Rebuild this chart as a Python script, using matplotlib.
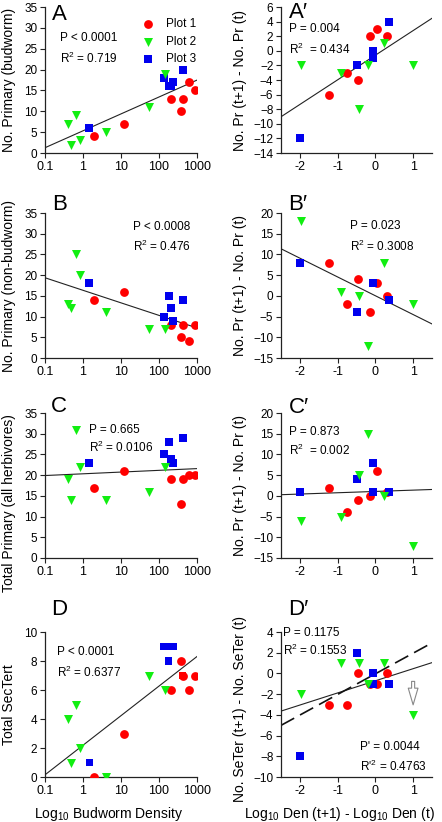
import numpy as np
import matplotlib
matplotlib.use("Agg")
import matplotlib.pyplot as plt
from matplotlib.patches import FancyArrowPatch, ArrowStyle

plt.rcParams['font.family'] = ['Liberation Sans', 'DejaVu Sans']
plt.rcParams['mathtext.fontset'] = 'custom'
plt.rcParams['mathtext.rm'] = 'Liberation Sans'
plt.rcParams['mathtext.it'] = 'Liberation Sans:italic'

# ---------------- data: left column (budworm density) ----------------
red_x = [2.0, 12, 210, 420, 390, 600, 870]
green_x = [0.41, 0.64, 0.47, 0.81, 4.0, 56, 146]
blue_x = [1.48, 137, 178, 204, 233, 417]

red_A = [4, 7, 13, 13, 10, 17, 15]
green_A = [7, 9, 2, 3, 5, 11, 19]
blue_A = [6, 18, 16, 16, 17, 20]

red_B = [14, 16, 8, 8, 5, 4, 8]
green_B = [13, 25, 12, 20, 11, 7, 7]
blue_B = [18, 10, 15, 12, 9, 14]

red_C = [17, 21, 19, 19, 13, 20, 20]
green_C = [19, 31, 14, 22, 14, 16, 22]
blue_C = [23, 25, 28, 24, 23, 29]

red_D = [0, 3, 6, 7, 8, 6, 7]
green_D = [4, 5, 1, 2, 0, 7, 6]
blue_D = [1, 9, 8, 9, 9, 7]
blue_D_colors = ['#0000ee', '#0000ee', '#0000ee', '#0000ee', '#0000ee', '#ff0000']

# ---------------- data: right column (change in log density) ----------------
red_dx = [-1.24, -0.76, -0.45, -0.15, 0.04, 0.32]
green_dx = [-1.96, -0.92, -0.43, -0.19, 0.23, 1.0]
blue_dx = [-2.0, -0.5, -0.05, -0.05, 0.37]

red_Ap = [-6, -3, -4, 2, 3, 2]
green_Ap = [-2, -3, -8, -2, 1, -2]
blue_Ap = [-12, -2, 0, -1, 4]

red_Bp = [8, -2, 4, -4, 3, 0]
green_Bp = [18, 1, 0, -12, 8, -2]
blue_Bp = [8, -4, 3, 3, -1]

red_Cp = [2, -4, -1, 0, 6, 1]
green_Cp = [-6, -5, 5, 15, 0, -12]
blue_Cp = [1, 4, 8, 1, 1]

red_Dp = [-3, -3, 0, -1, -1, 0]
green_Dp = [-2, 1, 1, -1, 1, -4]
blue_Dp = [-8, 2, 0, -1, -1]
outlier_index_green_Dp = 5

series_labels = ['Plot 1', 'Plot 2', 'Plot 3']
log_ticks = [0.1, 1, 10, 100, 1000]
log_ticklabels = ['0.1', '1', '10', '100', '1000']

RED = '#ff0000'
GREEN = '#11ee11'
BLUE = '#0000ee'

W, H = 442, 822
fig = plt.figure(figsize=(W / 100, H / 100), dpi=100)


def make_ax(left, right, top, bottom):
    return fig.add_axes([left / W, 1 - bottom / H, (right - left) / W, (bottom - top) / H])


def style(ax):
    for s in ['top', 'right']:
        ax.spines[s].set_visible(False)
    for s in ['left', 'bottom']:
        ax.spines[s].set_linewidth(0.9)
        ax.spines[s].set_color('#222222')
    ax.tick_params(direction='out', length=3.5, width=0.8, pad=2, color='#222222')
    ax.tick_params(axis='y', labelsize=8.5)
    ax.tick_params(axis='x', labelsize=9)
    ax.tick_params(which='minor', length=0)
    ax.patch.set_alpha(0)


def draw_points(ax, rx, ry, gx, gy, bx, by, bcolors=None):
    ax.scatter(rx, ry, marker='o', s=40, c=RED, linewidths=0, zorder=3, label=series_labels[0])
    ax.scatter(bx, by, marker='s', s=32, c=bcolors if bcolors else BLUE, linewidths=0, zorder=4,
               label=series_labels[2])
    ax.scatter(gx, gy, marker='v', s=42, c=GREEN, linewidths=0, zorder=5, label=series_labels[1])


def fit_line(ax, xs, ys, log=False, xlim=None, **kw):
    xs = np.asarray(xs, float)
    xv = np.log10(xs) if log else xs
    k, b = np.polyfit(xv, np.asarray(ys, float), 1)
    if log:
        lx = np.array([-1.0, 3.0])
        ax.plot(10 ** lx, k * lx + b, zorder=2, **kw)
    else:
        lx = np.array(xlim)
        ax.plot(lx, k * lx + b, zorder=2, **kw)


lefts = (45, 197)
rights = (281, 432)
rows = [(7, 153), (213, 358), (413, 558), (632, 777)]

left_data = [
    (red_A, green_A, blue_A, 35, 5, 'No. Primary (budworm)', None, 0.5),
    (red_B, green_B, blue_B, 35, 5, 'No. Primary (non-budworm)', None, 0.5),
    (red_C, green_C, blue_C, 35, 5, 'Total Primary (all herbivores)', None, 0.38),
    (red_D, green_D, blue_D, 10, 2, 'Total SecTert', blue_D_colors, 0.5),
]
right_data = [
    (red_Ap, green_Ap, blue_Ap, (-14, 6), 2, 'No. Pr (t+1) - No. Pr (t)', 0.5),
    (red_Bp, green_Bp, blue_Bp, (-15, 20), 5, 'No. Pr (t+1) - No. Pr (t)', 0.5),
    (red_Cp, green_Cp, blue_Cp, (-15, 20), 5, 'No. Pr (t+1) - No. Pr (t)', 0.5),
    (red_Dp, green_Dp, blue_Dp, (-10, 4), 2, 'No. SeTer (t+1) - No. SeTer (t)', 0.47),
]

LABEL_FS = 10

left_axes, right_axes = [], []
for (top, bot), (ry, gy, by, ymax, ystep, ylab, bcol, ly) in zip(rows, left_data):
    ax = make_ax(lefts[0], lefts[1], top, bot)
    style(ax)
    ax.set_xscale('log')
    ax.set_xlim(0.1, 1000)
    ax.set_ylim(0, ymax)
    ax.set_xticks(log_ticks)
    ax.set_xticklabels(log_ticklabels)
    ax.set_yticks(np.arange(0, ymax + 0.1, ystep))
    draw_points(ax, red_x, ry, green_x, gy, blue_x, by, bcol)
    fit_line(ax, red_x + green_x + blue_x, ry + gy + by, log=True, color='#222222', lw=0.8)
    ax.set_ylabel(ylab, fontsize=LABEL_FS)
    ax.yaxis.set_label_coords(-0.19, ly)
    left_axes.append(ax)

for (top, bot), (ry, gy, by, ylim, ystep, ylab, ly) in zip(rows, right_data):
    ax = make_ax(rights[0], rights[1], top, bot)
    style(ax)
    ax.set_xlim(-2.5, 1.5)
    ax.set_ylim(*ylim)
    ax.set_xticks([-2, -1, 0, 1])
    ax.set_xticklabels(['-2', '-1', '0', '1'])
    ax.set_yticks(np.arange(ylim[0], ylim[1] + 0.1, ystep))
    draw_points(ax, red_dx, ry, green_dx, gy, blue_dx, by)
    fit_line(ax, red_dx + green_dx + blue_dx, ry + gy + by, xlim=(-2.5, 1.5),
             color='#222222', lw=0.8)
    ax.set_ylabel(ylab, fontsize=LABEL_FS)
    ax.yaxis.set_label_coords(-0.225, ly)
    right_axes.append(ax)

# dashed fit in D' without the outlier
axDp = right_axes[3]
gx_wo = [x for i, x in enumerate(green_dx) if i != outlier_index_green_Dp]
gy_wo = [y for i, y in enumerate(green_Dp) if i != outlier_index_green_Dp]
fit_line(axDp, red_dx + gx_wo + blue_dx, red_Dp + gy_wo + blue_Dp, xlim=(-2.5, 1.5),
         color='#111111', lw=1.2, dashes=(9, 4))
ox = green_dx[outlier_index_green_Dp]
oy = green_Dp[outlier_index_green_Dp]
arr = FancyArrowPatch((ox, oy + 3.5), (ox, oy + 0.7),
                      arrowstyle=ArrowStyle.Simple(head_length=12, head_width=7, tail_width=2.2),
                      fc='white', ec='#888888', lw=0.8, zorder=6)
axDp.add_patch(arr)

# legend in A
h, l = left_axes[0].get_legend_handles_labels()
order = [l.index(s) for s in series_labels]
left_axes[0].legend([h[i] for i in order], [l[i] for i in order], loc='upper left',
                    bbox_to_anchor=(0.6, 0.955), frameon=False, fontsize=8.5,
                    handletextpad=0.9, labelspacing=0.45, borderaxespad=0, handlelength=1.2)

# annotations
ann_fs = 8.5
texts = [
    (left_axes[0], 0.10, 0.79, 'P < 0.0001'), (left_axes[0], 0.10, 0.65, 'R$^2$ = 0.719'),
    (right_axes[0], 0.05, 0.85, 'P = 0.004'), (right_axes[0], 0.05, 0.71, 'R$^2$  = 0.434'),
    (left_axes[1], 0.58, 0.90, 'P < 0.0008'), (left_axes[1], 0.58, 0.77, 'R$^2$ = 0.476'),
    (right_axes[1], 0.455, 0.91, 'P = 0.023'), (right_axes[1], 0.455, 0.77, 'R$^2$ = 0.3008'),
    (left_axes[2], 0.29, 0.88, 'P = 0.665'), (left_axes[2], 0.29, 0.76, 'R$^2$ = 0.0106'),
    (right_axes[2], 0.05, 0.87, 'P = 0.873'), (right_axes[2], 0.05, 0.74, 'R$^2$  = 0.002'),
    (left_axes[3], 0.08, 0.86, 'P < 0.0001'), (left_axes[3], 0.08, 0.72, 'R$^2$ = 0.6377'),
    (right_axes[3], 0.012, 0.995, 'P = 0.1175'), (right_axes[3], 0.012, 0.87, 'R$^2$ = 0.1553'),
    (right_axes[3], 0.52, 0.21, "P' = 0.0044"), (right_axes[3], 0.52, 0.07, "R'$^2$ = 0.4763"),
]
for ax, x, y, s in texts:
    ax.text(x, y, s, transform=ax.transAxes, fontsize=ann_fs, ha='left', va='center', zorder=7)

# panel letters
letters = [(52, 14, 'A'), (289, 13, 'A\u2032'), (52, 204, 'B'), (288, 204, 'B\u2032'),
           (51, 406, 'C'), (289, 407, 'C\u2032'), (51, 609, 'D'), (288, 609, 'D\u2032')]
for px, py, s in letters:
    fig.text(px / W, 1 - py / H, s, fontsize=16, ha='left', va='center',
             family=['Liberation Sans', 'DejaVu Sans'])

# x labels
left_axes[3].set_xlabel('Log$_{10}$ Budworm Density', fontsize=LABEL_FS)
left_axes[3].xaxis.set_label_coords(0.42, -0.19)
right_axes[3].set_xlabel('Log$_{10}$ Den (t+1) - Log$_{10}$ Den (t)', fontsize=LABEL_FS)
right_axes[3].xaxis.set_label_coords(0.39, -0.19)

fig.savefig('out.png', dpi=100)
